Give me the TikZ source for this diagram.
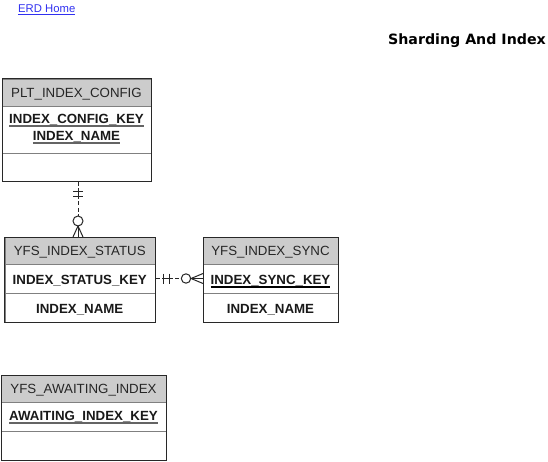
\documentclass[tikz,border=0pt]{standalone}
\usepackage{fontspec}
\setmainfont{Liberation Sans}
\newfontfamily\dejavu{DejaVu Sans}
\usetikzlibrary{calc}
\definecolor{hdrgray}{RGB}{204,204,204}
\definecolor{edgec}{RGB}{40,40,40}
\definecolor{sepc}{RGB}{128,128,128}
\definecolor{ulc}{RGB}{100,100,100}
\definecolor{linkc}{RGB}{48,48,240}
\newcommand\keyul[2][ulc]{\setbox0\hbox{#2}\rlap{\color{#1}\vrule height -2pt depth 3.5pt width \wd0}\box0}
\newcommand\linkul[1]{\setbox0\hbox{#1}\rlap{\color{linkc}\vrule height -1.5pt depth 2.5pt width \wd0}\box0}
\tikzset{
  hdr/.style={draw=sepc, fill=hdrgray, anchor=north west, inner sep=0pt, line width=0.9pt},
  sec/.style={draw=sepc, fill=white, anchor=north west, inner sep=0pt, line width=0.9pt},
  outline/.style={draw=edgec, line width=1pt},
  htxt/.style={anchor=base, inner sep=0pt, text=black!85, font=\fontsize{13.3}{16}\selectfont},
  ktxt/.style={anchor=base, inner sep=0pt, text=black!90, font=\bfseries\fontsize{13.3}{16}\selectfont},
  rel/.style={draw=black!85, line width=1pt},
  reldash/.style={draw=black!85, line width=1pt, dash pattern=on 4pt off 2.5pt}
}
\begin{document}
\begin{tikzpicture}[x=1pt,y=-1pt]
\useasboundingbox (0,0) rectangle (548,462);

% link and title
\node[anchor=base west, inner sep=0pt, text=linkc, font=\fontsize{11.3}{13}\selectfont] (home) at (18,12.5) {\linkul{ERD Home}};
\node[anchor=base east, inner sep=0pt, font=\dejavu\bfseries\fontsize{14.2}{16}\selectfont] (title) at (546,44.5) {Sharding And Index};

% PLT_INDEX_CONFIG
\node[hdr, minimum width=149pt, minimum height=27pt] (pltH) at (2,79) {};
\node[sec, minimum width=149pt, minimum height=47pt] (pltK) at (2,106) {};
\node[sec, minimum width=149pt, minimum height=28pt] (pltA) at (2,153) {};
\draw[outline] (pltH.north west) rectangle (pltA.south east);
\node[htxt] (pltHt) at (76.5,97.5) {PLT\_INDEX\_CONFIG};
\node[ktxt] (pltK1) at (76.5,123.5) {\keyul{INDEX\_CONFIG\_KEY}};
\node[ktxt] (pltK2) at (76.5,140.5) {\keyul{INDEX\_NAME}};

% YFS_INDEX_STATUS
\node[hdr, minimum width=150.5pt, minimum height=27pt] (stH) at (4.5,237) {};
\node[sec, minimum width=150.5pt, minimum height=29pt] (stK) at (4.5,264) {};
\node[sec, minimum width=150.5pt, minimum height=29pt] (stA) at (4.5,293) {};
\draw[outline] (stH.north west) rectangle (stA.south east);
\node[htxt] (stHt) at (79.75,255.5) {YFS\_INDEX\_STATUS};
\node[ktxt] (stKt) at (79.75,284) {INDEX\_STATUS\_KEY};
\node[ktxt] (stAt) at (79.75,313) {INDEX\_NAME};

% YFS_INDEX_SYNC
\node[hdr, minimum width=135pt, minimum height=27pt] (syH) at (203,237) {};
\node[sec, minimum width=135pt, minimum height=29pt] (syK) at (203,264) {};
\node[sec, minimum width=135pt, minimum height=29pt] (syA) at (203,293) {};
\draw[outline] (syH.north west) rectangle (syA.south east);
\node[htxt] (syHt) at (270.5,255.5) {YFS\_INDEX\_SYNC};
\node[ktxt] (syKt) at (270.5,284) {\keyul[black]{INDEX\_SYNC\_KEY}};
\node[ktxt] (syAt) at (270.5,313) {INDEX\_NAME};

% YFS_AWAITING_INDEX
\node[hdr, minimum width=165pt, minimum height=27pt] (awH) at (1,375) {};
\node[sec, minimum width=165pt, minimum height=29pt] (awK) at (1,402) {};
\node[sec, minimum width=165pt, minimum height=29pt] (awA) at (1,431) {};
\draw[outline] (awH.north west) rectangle (awA.south east);
\node[htxt] (awHt) at (83.5,393.5) {YFS\_AWAITING\_INDEX};
\node[ktxt] (awKt) at (83.5,420) {\keyul{AWAITING\_INDEX\_KEY}};

% relationship PLT -> STATUS (vertical)
\coordinate (p1) at (pltA.south -| 78,0);
\coordinate (c1) at (stH.north -| 78,0);
\draw[reldash] (p1) -- ($(c1)+(0,-21)$);
\draw[rel] ($(p1)+(-5,10)$) -- ($(p1)+(5,10)$);
\draw[rel] ($(p1)+(-5,15)$) -- ($(p1)+(5,15)$);
\draw[rel] ($(p1)+(0,10)$) -- ($(p1)+(0,15)$);
\draw[rel, fill=white] ($(c1)+(0,-16)$) circle (5);
\draw[rel] ($(c1)+(-5,0)$) -- ($(c1)+(0,-11)$) -- ($(c1)+(5,0)$);
\draw[rel] ($(c1)+(0,-11)$) -- (c1);

% relationship STATUS -> SYNC (horizontal)
\coordinate (p2) at (stK.east |- 0,278.5);
\coordinate (c2) at (syK.west |- 0,278.5);
\draw[reldash] (p2) -- ($(c2)+(-22,0)$);
\draw[rel] ($(p2)+(8,-5)$) -- ($(p2)+(8,5)$);
\draw[rel] ($(p2)+(14,-5)$) -- ($(p2)+(14,5)$);
\draw[rel] ($(p2)+(8,0)$) -- ($(p2)+(14,0)$);
\draw[rel, fill=white] ($(c2)+(-17,0)$) circle (4.7);
\draw[rel] ($(c2)+(0,-5)$) -- ($(c2)+(-12,0)$) -- ($(c2)+(0,5)$);
\draw[rel] ($(c2)+(-12,0)$) -- (c2);
\end{tikzpicture}
\end{document}
